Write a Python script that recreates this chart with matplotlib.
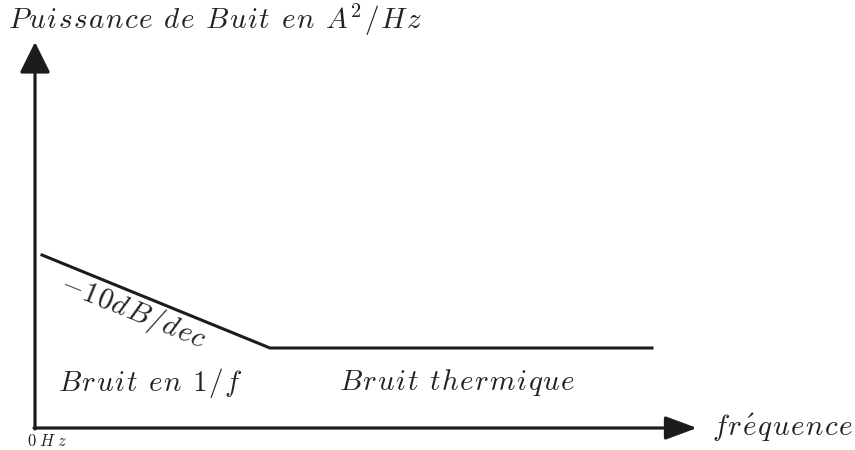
import matplotlib
matplotlib.use('Agg')
import matplotlib.pyplot as plt
from matplotlib.patches import FancyArrowPatch
import numpy as np

plt.rcParams['mathtext.fontset'] = 'cm'

# schematic noise spectrum (drawing units, y grows downward)
origin = (35, 428)
x_axis_end = 697
y_axis_end = 42
curve_x = [42, 270, 652]
curve_y = [255, 348, 348]

# labels, glyphs separated by '|' so they can be letter-spaced like the original
title_txt = 'P|u|i|s|s|a|n|c|e| |d|e| |B|u|i|t| |e|n| |A^2|/|H|z'
slope_txt = '-|1|0|d|B|/|d|e|c'
region_txt = ['B|r|u|i|t| |e|n| |1|/|f', 'B|r|u|i|t| |t|h|e|r|m|i|q|u|e']
region_x = [150, 457]
xlab_txt = r'f|r|\acute{e}|q|u|e|n|c|e'
zero_txt = '0|H|z'


def spaced(s, gap):
    toks = [r'\ ' if t == ' ' else t for t in s.split('|')]
    return '$' + (r'\hspace{%g}' % gap).join(toks) + '$'


fig = plt.figure(figsize=(8.55, 4.5), dpi=100)
ax = fig.add_axes([0, 0, 1, 1])
ax.set_xlim(0, 855)
ax.set_ylim(450, 0)
ax.axis('off')

col = '#1c1c1c'
# x axis arrow (head short and flat), y axis arrow (head wider)
ax.add_patch(FancyArrowPatch((origin[0] - 1, origin[1]), (x_axis_end, origin[1]),
                             arrowstyle='-|>,head_length=0.97,head_width=0.36',
                             mutation_scale=20, color=col, lw=2.3, shrinkA=0, shrinkB=0))
ax.add_patch(FancyArrowPatch((origin[0], origin[1] + 1), (origin[0], y_axis_end),
                             arrowstyle='-|>,head_length=0.95,head_width=0.47',
                             mutation_scale=20, color=col, lw=2.3, shrinkA=0, shrinkB=0))

ax.plot(curve_x, curve_y, color=col, lw=2.2, solid_joinstyle='miter')

tc = '#222222'
fs = 21
g = 0.06
ax.text(8, 29, spaced(title_txt, g), fontsize=fs, va='baseline', ha='left', color=tc)
ang = np.degrees(np.arctan((curve_y[1] - curve_y[0]) / (curve_x[1] - curve_x[0])))
ax.text(133, 312, spaced(slope_txt, 0.04), fontsize=fs, rotation=-ang, rotation_mode='anchor',
        ha='center', va='center', color=tc)
for t, xx in zip(region_txt, region_x):
    ax.text(xx, 383, spaced(t, g), fontsize=fs, ha='center', va='center', color=tc)
ax.text(712, 428, spaced(xlab_txt, g), fontsize=fs, ha='left', va='center', color=tc)
ax.text(27, 441, spaced(zero_txt, 0.3), fontsize=12, ha='left', va='center', color=tc)

fig.savefig('out.png', dpi=100)
